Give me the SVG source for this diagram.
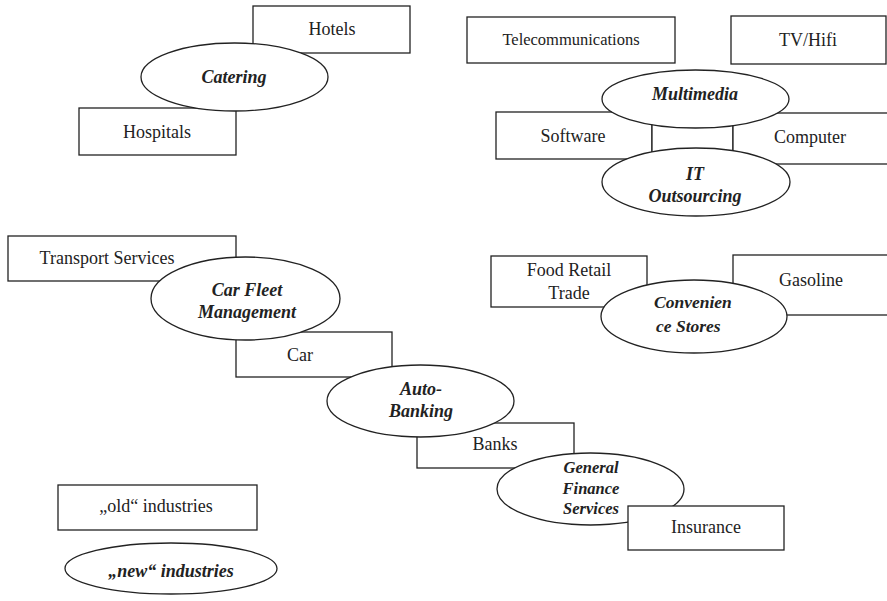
<svg xmlns="http://www.w3.org/2000/svg" width="887" height="601" viewBox="0 0 887 601">
  <style>
    .box { fill: #ffffff; stroke: #222222; stroke-width: 1.3; }
    .oval { fill: #ffffff; stroke: #222222; stroke-width: 1.3; }
    text { font-family: 'Liberation Serif', 'DejaVu Serif', serif; fill: #222222; text-anchor: middle; }
    .lbl { font-size: 18px; }
    .new { font-size: 18px; font-weight: bold; font-style: italic; }
  </style>
  <rect width="887" height="601" fill="#ffffff"/>

  <g font-family="Liberation Serif, DejaVu Serif, serif">
  <!-- Catering cluster -->
  <g id="hotels"><rect class="box" x="253" y="6" width="157" height="47"/><text class="lbl" x="332" y="35">Hotels</text></g>
  <g id="hospitals"><rect class="box" x="79" y="108" width="157" height="47"/><text class="lbl" x="157" y="138">Hospitals</text></g>
  <g id="catering"><ellipse class="oval" cx="234.5" cy="77" rx="93.5" ry="34"/><text class="new" x="234" y="83">Catering</text></g>

  <!-- Multimedia / IT cluster -->
  <g id="telecommunications"><rect class="box" x="467" y="17" width="208" height="46"/><text class="lbl" x="571" y="45" style="font-size:16.5px">Telecommunications</text></g>
  <g id="tvhifi"><rect class="box" x="731" y="16" width="155" height="48"/><text class="lbl" x="808" y="46">TV/Hifi</text></g>
  <g id="software"><rect class="box" x="496" y="112" width="156" height="47"/><text class="lbl" x="573" y="142">Software</text></g>
  <g id="bridge"><rect class="box" x="652" y="112" width="81" height="48"/></g>
  <g id="computer"><rect class="box" x="733" y="113" width="170" height="51"/><text class="lbl" x="810" y="143">Computer</text></g>
  <g id="multimedia"><ellipse class="oval" cx="695.5" cy="99" rx="93.5" ry="29"/><text class="new" x="695" y="100">Multimedia</text></g>
  <g id="it-outsourcing"><ellipse class="oval" cx="696" cy="182" rx="94" ry="34"/><text class="new" x="695" y="180">IT</text><text class="new" x="695" y="202">Outsourcing</text></g>

  <!-- Car fleet / banking chain -->
  <g id="transport"><rect class="box" x="8" y="236" width="228" height="45"/><text class="lbl" x="107" y="264">Transport Services</text></g>
  <g id="car"><rect class="box" x="236" y="332" width="156" height="45"/><text class="lbl" x="300" y="361">Car</text></g>
  <g id="banks"><rect class="box" x="417" y="423" width="157" height="45"/><text class="lbl" x="495" y="450">Banks</text></g>
  <g id="car-fleet"><ellipse class="oval" cx="245.5" cy="298.5" rx="94.5" ry="41.5"/><text class="new" x="247" y="296">Car Fleet</text><text class="new" x="247" y="318">Management</text></g>
  <g id="auto-banking"><ellipse class="oval" cx="420.5" cy="401" rx="93.5" ry="36"/><text class="new" x="421" y="395">Auto-</text><text class="new" x="421" y="417">Banking</text></g>
  <g id="finance"><ellipse class="oval" cx="590.5" cy="489" rx="93.5" ry="36"/><text class="new" x="591" y="473" style="font-size:16.5px">General</text><text class="new" x="591" y="494" style="font-size:16.5px">Finance</text><text class="new" x="591" y="514" style="font-size:16.5px">Services</text></g>
  <g id="insurance"><rect class="box" x="628" y="506" width="156" height="44"/><text class="lbl" x="706" y="533">Insurance</text></g>

  <!-- Convenience stores cluster -->
  <g id="food-retail"><rect class="box" x="491" y="256" width="156" height="51"/><text class="lbl" x="569" y="276">Food Retail</text><text class="lbl" x="569" y="299">Trade</text></g>
  <g id="gasoline"><rect class="box" x="733" y="255" width="170" height="60"/><text class="lbl" x="811" y="286">Gasoline</text></g>
  <g id="convenience"><ellipse class="oval" cx="694" cy="316.5" rx="93" ry="36.5"/><text class="new" x="654" y="308" style="text-anchor:start;font-size:17.5px">Convenien</text><text class="new" x="656" y="332" style="text-anchor:start;font-size:17.5px">ce Stores</text></g>

  <!-- Legend -->
  <g id="legend-old"><rect class="box" x="58" y="485" width="199" height="45"/><text class="lbl" x="156" y="512">„old“ industries</text></g>
  <g id="legend-new"><ellipse class="oval" cx="171" cy="568.5" rx="106" ry="25.5"/><text class="new" x="171" y="577">„new“ industries</text></g>
  </g>

  <g id="connectors"></g>
</svg>
